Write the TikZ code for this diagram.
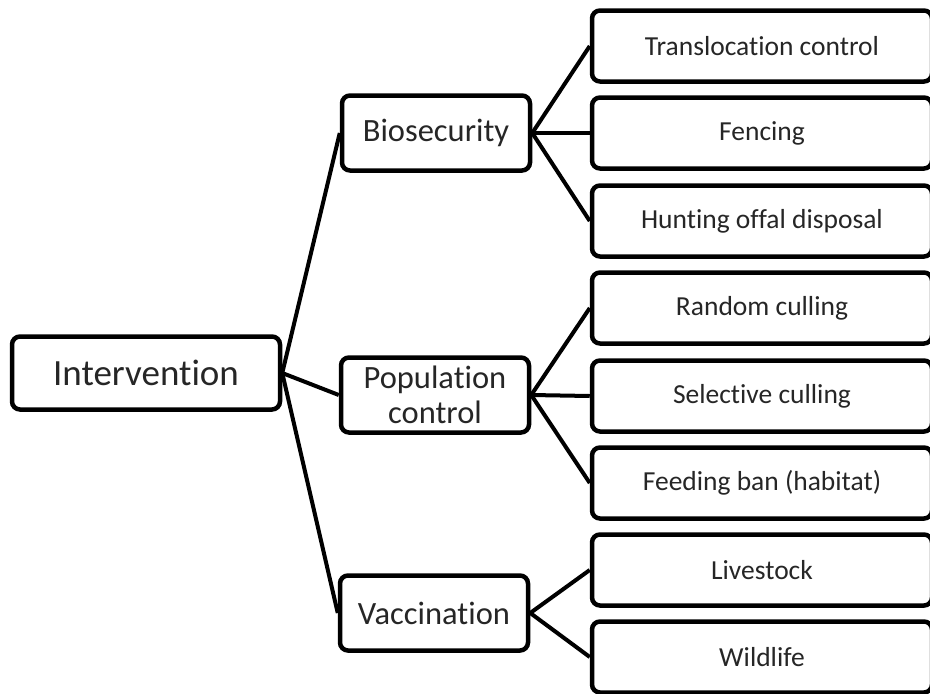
\documentclass[tikz,border=0pt]{standalone}
\usepackage{fontspec}
\setmainfont{Carlito}[Ligatures=NoCommon]
\usepackage{tikz}

\begin{document}
\begin{tikzpicture}[x=1pt, y=-1pt,
		rootbox/.style={rectangle, draw, line width=4.5pt, rounded corners=8pt, inner sep=0pt, minimum width=268pt, minimum height=73pt, font=\fontsize{37}{40}\selectfont, text=black!85},
		catbox/.style={rectangle, draw, line width=4.5pt, rounded corners=8pt, inner sep=0pt, minimum width=188pt, minimum height=75pt, align=center, font=\fontsize{32.5}{35}\selectfont, text=black!85},
		itembox/.style={rectangle, draw, line width=4.5pt, rounded corners=8pt, inner sep=0pt, minimum width=340pt, minimum height=71pt, font=\fontsize{27.5}{30}\selectfont, text=black!85},
		link/.style={line width=4pt}]
				\useasboundingbox (0,0) rectangle (930,694);
				\node[rootbox] (root) at (146,373) {Intervention};
				\node[catbox] (bio) at (436,133) {Biosecurity};
				\node[catbox] (pop) at (435,395) {Population\\control};
				\node[catbox] (vac) at (434,613) {Vaccination};
				\node[itembox] (trans) at (762,46) {Translocation control};
				\node[itembox] (fence) at (762,133) {Fencing};
				\node[itembox] (offal) at (762,221) {Hunting offal disposal};
				\node[itembox] (rand) at (762,308) {Random culling};
				\node[itembox] (sel) at (762,396) {Selective culling};
				\node[itembox] (feed) at (762,483) {Feeding ban (habitat)};
				\node[itembox] (live) at (762,570) {Livestock};
				\node[itembox] (wild) at (762,657) {Wildlife};
				\draw[link] (root.east) -- (bio.west);\draw[link] (root.east) -- (pop.west);\draw[link] (root.east) -- (vac.west);
				\draw[link] (bio.east) -- (trans.west);\draw[link] (bio.east) -- (fence.west);\draw[link] (bio.east) -- (offal.west);
				\draw[link] (pop.east) -- (rand.west);\draw[link] (pop.east) -- (sel.west);\draw[link] (pop.east) -- (feed.west);
				\draw[link] (vac.east) -- (live.west);\draw[link] (vac.east) -- (wild.west);
			\end{tikzpicture}
\end{document}
